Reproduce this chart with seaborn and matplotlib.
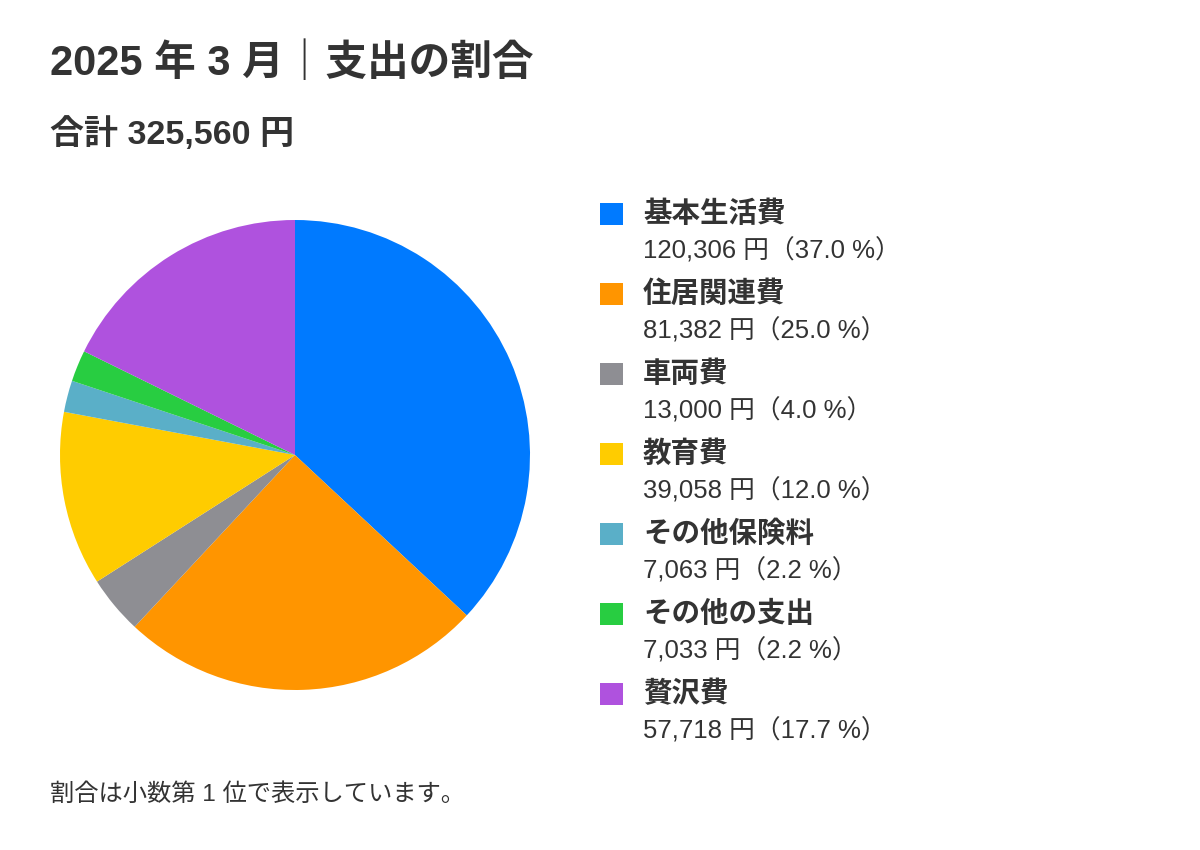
import matplotlib
matplotlib.use("Agg")
import matplotlib.pyplot as plt
import seaborn as sns

sns.set_theme(style="white")
plt.rcParams['font.family'] = ['Liberation Sans', 'Noto Sans CJK JP', 'DejaVu Sans']

categories = ["基本生活費", "住居関連費", "車両費", "教育費", "その他保険料", "その他の支出", "贅沢費"]
values = [120306, 81382, 13000, 39058, 7063, 7033, 57718]
colors = ["#007AFF", "#FF9500", "#8E8E93", "#FFCC00", "#5AAFC8", "#28CD41", "#AF52DE"]
title = "2025 年 3 月｜支出の割合"
footer = "割合は小数第 1 位で表示しています。"

total = sum(values)
text_color = "#333333"

fig = plt.figure(figsize=(12, 8.5), dpi=100)
fig.patch.set_facecolor("white")

W, H = 1200, 850
def fx(px):
    return px / W
def fy(py):
    return 1 - py / H

ax = fig.add_axes([fx(60), fy(690), 470 / W, 470 / H])
ax.pie(values, colors=colors, startangle=90, counterclock=False,
       wedgeprops=dict(linewidth=0), radius=1)
ax.set_xlim(-1, 1)
ax.set_ylim(-1, 1)
ax.set_aspect("equal")
ax.axis("off")

fig.text(fx(50), fy(63), title, fontsize=30, fontweight="bold", color=text_color,
         va="center", ha="left")
fig.text(fx(50), fy(134), f"合計 {total:,} 円", fontsize=24.5, fontweight="bold",
         color=text_color, va="center", ha="left")

for i, (cat, val, col) in enumerate(zip(categories, values, colors)):
    y0 = 214 + i * 80
    fig.patches.append(plt.Rectangle((fx(600), fy(y0 + 11)), 23 / W, 22 / H,
                                     transform=fig.transFigure, facecolor=col,
                                     edgecolor="none"))
    fig.text(fx(643), fy(y0), cat, fontsize=20.5, fontweight="bold", color=text_color,
             va="center", ha="left")
    pct = val / total * 100
    fig.text(fx(643), fy(y0 + 37), f"{val:,} 円（{pct:.1f} %）", fontsize=18.5,
             color=text_color, va="center", ha="left")

fig.text(fx(50), fy(795), footer, fontsize=17.5, color=text_color, va="center", ha="left")

fig.savefig("out.png", dpi=100, facecolor="white")
